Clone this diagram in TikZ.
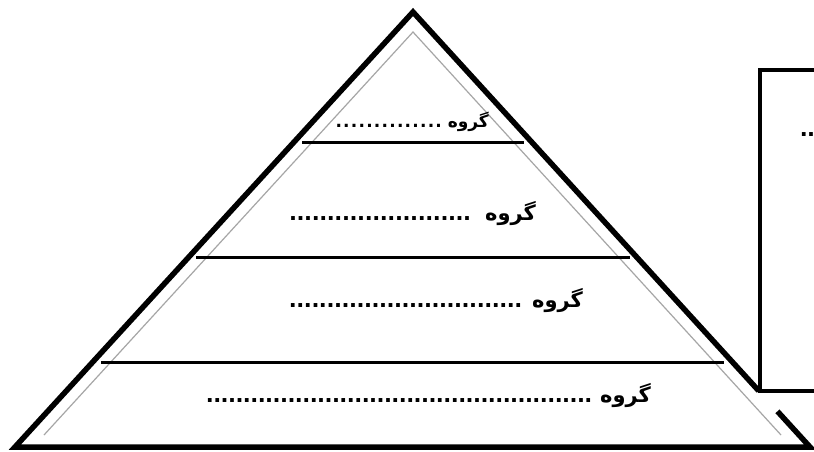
\documentclass[tikz,border=0pt]{standalone}
\usepackage{fontspec}
\newfontfamily\arabicfont[Script=Arabic]{DejaVu Sans}
\TeXXeTstate=1
\usetikzlibrary{calc}
\newcommand{\dotrow}[1]{\hbox to #1{\xleaders\hbox to 7.3pt{\hss.\hss}\hfill}}
\newcommand{\groupword}{{\beginR گروه\endR}}

\begin{document}
\begin{tikzpicture}[x=1pt,y=-1pt,
  pyramid edge/.style={line width=5.5pt,line join=miter,miter limit=20},
  tier line/.style={line width=3pt},
  inner edge/.style={black!35,line width=1.2pt},
  side box/.style={line width=3.5pt},
  row label/.style={inner sep=0pt,anchor=base east,font=\arabicfont\bfseries}]
  \clip (0,0) rectangle (814,452);
  \fill[white] (0,0) rectangle (814,452);
  % corners of the pyramid
  \coordinate (apex) at (413,12);
  \coordinate (bl) at (15,447);
  \coordinate (br) at (810,447);
  \coordinate (iapex) at (413,32);
  \coordinate (ibl) at (44,435);
  \coordinate (ibr) at (781,435);
  % thin grey inner outline
  \draw[inner edge] (ibl) -- (iapex) -- (ibr);
  % thick outline, broken where the box sits
  \coordinate (gapA) at ($(apex)!0.871!(br)$);
  \coordinate (gapB) at ($(apex)!0.918!(br)$);
  \draw[pyramid edge] (gapA) -- (apex) -- (bl) -- (br) -- (gapB);
  % tier lines
  \foreach \t/\n in {0.299/1,0.5655/2,0.8046/3} {
    \coordinate (L\n) at ($(apex)!\t!(bl)+(8,0)$);
    \coordinate (R\n) at ($(apex)!\t!(br)+(-8,0)$);
    \draw[tier line] (L\n) -- (R\n);
  }
  % labels
  \node[row label] (row1) at (489,127)
    {\fontsize{17}{19}\selectfont\dotrow{108pt}\hspace{5pt}\groupword};
  \node[row label] (row2) at (536,220)
    {\fontsize{21}{24}\selectfont\dotrow{182pt}\hspace{14pt}\groupword};
  \node[row label] (row3) at (583,307)
    {\fontsize{21}{24}\selectfont\dotrow{233pt}\hspace{10pt}\groupword};
  \node[row label] (row4) at (651,402)
    {\fontsize{21}{24}\selectfont\dotrow{386pt}\hspace{8pt}\groupword};
  % side box, cut by the page edge
  \draw[side box] (830,70) -| (760,391) -- (830,391);
  \node[row label,anchor=base west] (boxdots) at (800,136)
    {\fontsize{21}{24}\selectfont\dotrow{14.6pt}};
\end{tikzpicture}
\end{document}
